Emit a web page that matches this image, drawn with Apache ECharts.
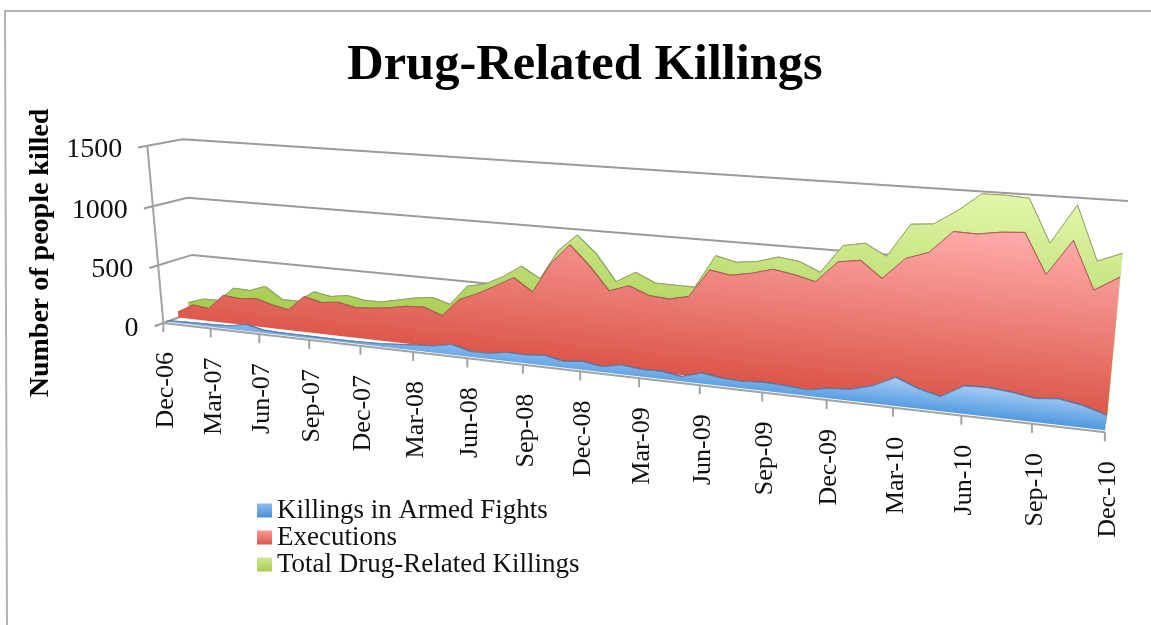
<!DOCTYPE html>
<html><head><meta charset="utf-8">
<style>html,body{margin:0;background:#fff}#chart{width:1151px;height:625px}</style>
<script src="https://cdn.jsdelivr.net/npm/echarts@6/dist/echarts.min.js"></script>
</head><body><div id="chart"></div>
<script>
// Monthly drug-related killings, December 2006 to December 2010.
const months = ['Dec-06','Jan-07','Feb-07','Mar-07','Apr-07','May-07','Jun-07','Jul-07','Aug-07','Sep-07','Oct-07','Nov-07','Dec-07',
  'Jan-08','Feb-08','Mar-08','Apr-08','May-08','Jun-08','Jul-08','Aug-08','Sep-08','Oct-08','Nov-08','Dec-08',
  'Jan-09','Feb-09','Mar-09','Apr-09','May-09','Jun-09','Jul-09','Aug-09','Sep-09','Oct-09','Nov-09','Dec-09',
  'Jan-10','Feb-10','Mar-10','Apr-10','May-10','Jun-10','Jul-10','Aug-10','Sep-10','Oct-10','Nov-10','Dec-10'];
const armedFights = [8,15,18,20,28,55,22,18,18,16,16,16,18,22,34,45,54,84,44,45,69,67,80,50,66,43,74,56,59,36,81,58,53,64,57,43,73,85,130,211,147,106,203,209,195,169,184,157,106];
const executions = [50,127,108,240,227,244,203,175,302,268,285,256,266,285,312,320,264,412,475,551,632,531,772,929,779,599,654,593,580,615,830,804,833,876,850,812,971,996,878,1036,1092,1251,1246,1271,1282,1004,1252,924,1028];
const totalKillings = [100,146,149,271,265,316,217,216,312,287,310,284,285,316,348,368,324,490,522,596,693,607,844,978,841,639,727,658,655,655,909,872,891,938,919,851,1061,1092,1009,1253,1267,1372,1501,1502,1492,1193,1469,1094,1162];
const valueTicks = [0,500,1000,1500];
const seriesNames = ['Killings in Armed Fights','Executions','Total Drug-Related Killings'];

// Perspective camera: maps (u along time, v along value, w along depth), each in 0..1, to the page.
const camera = [714.36174,-20.8909,40.323,163.36506,20.44,-182.08858,-1.50235,323.02456,-0.20558,-0.03334,0.0343];
function project(u, v, w) {
  const h = camera, d = h[8]*u + h[9]*v + h[10]*w + 1;
  return [(h[0]*u + h[1]*v + h[2]*w + h[3]) / d, (h[4]*u + h[5]*v + h[6]*w + h[7]) / d];
}

// The cartesian grid is only the scale source; its pixels are normalised and sent through the camera.
const grid = {left: 100, top: 100, width: 480, height: 300};
const toUV = (api, i, value) => {
  const p = api.coord([i, value]);
  return [(p[0] - grid.left) / grid.width, (grid.top + grid.height - p[1]) / grid.height];
};

const FONT = '"Liberation Serif", serif';
const GRID_COLOR = '#9b9b9b', AXIS_COLOR = '#a3a3a3', INK = '#111';

function gradient(x, y, x2, y2, from, to) {
  return new echarts.graphic.LinearGradient(x, y, x2, y2, [{offset: 0, color: from}, {offset: 1, color: to}], true);
}

// One extruded area slab: top surface strips behind a flat front face.
function slab(name, values, depth, fill, bandColor, edgeColor) {
  return {
    type: 'custom', name, coordinateSystem: 'cartesian2d', z: 3,
    data: values.map((v, i) => [i, v]),
    encode: {x: 0, y: 1},
    renderItem(params, api) {
      if (params.dataIndex !== 0) return null;
      const uv = values.map((v, i) => toUV(api, i, v));
      const children = [];
      for (let i = 0; i < uv.length - 1; i++) {
        children.push({type: 'polygon', shape: {points: [
          project(uv[i][0], uv[i][1], depth[0]), project(uv[i+1][0], uv[i+1][1], depth[0]),
          project(uv[i+1][0], uv[i+1][1], depth[1]), project(uv[i][0], uv[i][1], depth[1])
        ]}, style: {fill: bandColor}});
      }
      const last = uv[uv.length - 1];
      children.push({type: 'polygon', shape: {points: [
        project(1, 0, depth[0]), project(1, last[1], depth[0]), project(1, last[1], depth[1]), project(1, 0, depth[1])
      ]}, style: {fill: bandColor}});
      const top = uv.map(a => project(a[0], a[1], depth[0]));
      children.push({type: 'polygon', shape: {points: [project(0, 0, depth[0])].concat(top, [project(1, 0, depth[0])])}, style: {fill}});
      children.push({type: 'polyline', shape: {points: top}, style: {stroke: edgeColor, lineWidth: 1, fill: null}});
      return {type: 'group', children};
    }
  };
}

const wallSeries = {
  type: 'custom', coordinateSystem: 'cartesian2d', z: 2, silent: true,
  data: valueTicks.map(t => [0, t]),
  renderItem(params, api) {
    const tick = api.value(1), [, v] = toUV(api, 0, tick);
    const tip = project(0, v, -0.25);
    return {type: 'group', children: [
      {type: 'polyline', shape: {points: [tip, project(0, v, 0), project(0, v, 1), project(1, v, 1)]},
        style: {stroke: GRID_COLOR, lineWidth: 2, fill: null}},
      {type: 'text', x: tip[0] - 16, y: tip[1] + 2,
        style: {text: String(tick), font: '28px ' + FONT, fill: INK, align: 'right', verticalAlign: 'middle'}}
    ]};
  }
};

const axisLines = {
  type: 'custom', coordinateSystem: 'cartesian2d', z: 4, silent: true,
  data: [[0, 0]],
  renderItem() {
    return {type: 'group', children: [
      {type: 'polyline', shape: {points: [project(0, 1, 0), project(0, 0, 0)]}, style: {stroke: AXIS_COLOR, lineWidth: 2, fill: null}},
      {type: 'polyline', shape: {points: [project(0, 0, 0), project(1, 0, 0)]}, style: {stroke: AXIS_COLOR, lineWidth: 2, fill: null}}
    ]};
  }
};

// Quarterly ticks under the front edge, with upright month labels.
const quarterIndexes = months.map((m, i) => i).filter(i => i % 3 === 0);
const timeAxis = {
  type: 'custom', coordinateSystem: 'cartesian2d', z: 4, silent: true,
  data: quarterIndexes.map(i => [i, 0]),
  renderItem(params, api) {
    const i = api.value(0), [u] = toUV(api, i, 0), p = project(u, 0, 0);
    return {type: 'group', children: [
      {type: 'line', shape: {x1: p[0], y1: p[1], x2: p[0], y2: p[1] + 9}, style: {stroke: AXIS_COLOR, lineWidth: 2}},
      {type: 'text', x: p[0] + 3, y: p[1] + 29, rotation: Math.PI / 2,
        style: {text: months[i], font: '26px ' + FONT, fill: INK, align: 'right', verticalAlign: 'middle'}}
    ]};
  }
};

const chart = echarts.init(document.getElementById('chart'));
chart.setOption({
  animation: false,
  backgroundColor: '#fff',
  title: {text: 'Drug-Related Killings', left: 580, top: 35, textAlign: 'center',
    textStyle: {fontFamily: FONT, fontSize: 50.5, fontWeight: 'bold', color: '#000'}},
  grid,
  xAxis: {type: 'category', boundaryGap: false, show: false, data: months},
  yAxis: {type: 'value', min: 0, max: 1500, interval: 500, show: false},
  legend: {
    orient: 'vertical', left: 257, top: 497, itemWidth: 15, itemHeight: 14, itemGap: 0, padding: 0, selectedMode: false,
    textStyle: {fontFamily: FONT, fontSize: 27, lineHeight: 27, color: INK},
    data: [
      {name: seriesNames[0], icon: 'rect', itemStyle: {color: new echarts.graphic.LinearGradient(0,0,0,1,[{offset:0,color:'#8fbdf0'},{offset:1,color:'#4a8ed6'}])}},
      {name: seriesNames[1], icon: 'rect', itemStyle: {color: new echarts.graphic.LinearGradient(0,0,0,1,[{offset:0,color:'#f79a96'},{offset:1,color:'#dc574a'}])}},
      {name: seriesNames[2], icon: 'rect', itemStyle: {color: new echarts.graphic.LinearGradient(0,0,0,1,[{offset:0,color:'#cfe990'},{offset:1,color:'#a8cc55'}])}}
    ]
  },
  graphic: [
    {type: 'polyline', shape: {points: [[1151, 11], [5, 11], [7, 625]]}, style: {stroke: '#b2b2b2', lineWidth: 2, fill: null}},
    {type: 'text', x: 41, y: 253, rotation: Math.PI / 2,
      style: {text: 'Number of people killed', font: 'bold 28px ' + FONT, fill: '#000', align: 'center', verticalAlign: 'middle'}}
  ],
  series: [
    wallSeries,
    slab(seriesNames[2], totalKillings, [0.76, 0.8], gradient(1000, 190, 977, 418, '#e3f8ab', '#9bc43f'), '#90ad45', '#8f9f66'),
    slab(seriesNames[1], executions, [0.44, 0.48], gradient(1000, 232, 983, 403, '#ffabab', '#dc574a'), '#ad4a42', '#a85a55'),
    slab(seriesNames[0], armedFights, [0.1, 0.15], gradient(890, 374, 886, 414, '#afd2fb', '#3f8ed8'), '#3f6fa6', '#5f7fa8'),
    axisLines,
    timeAxis
  ]
});
</script></body></html>
